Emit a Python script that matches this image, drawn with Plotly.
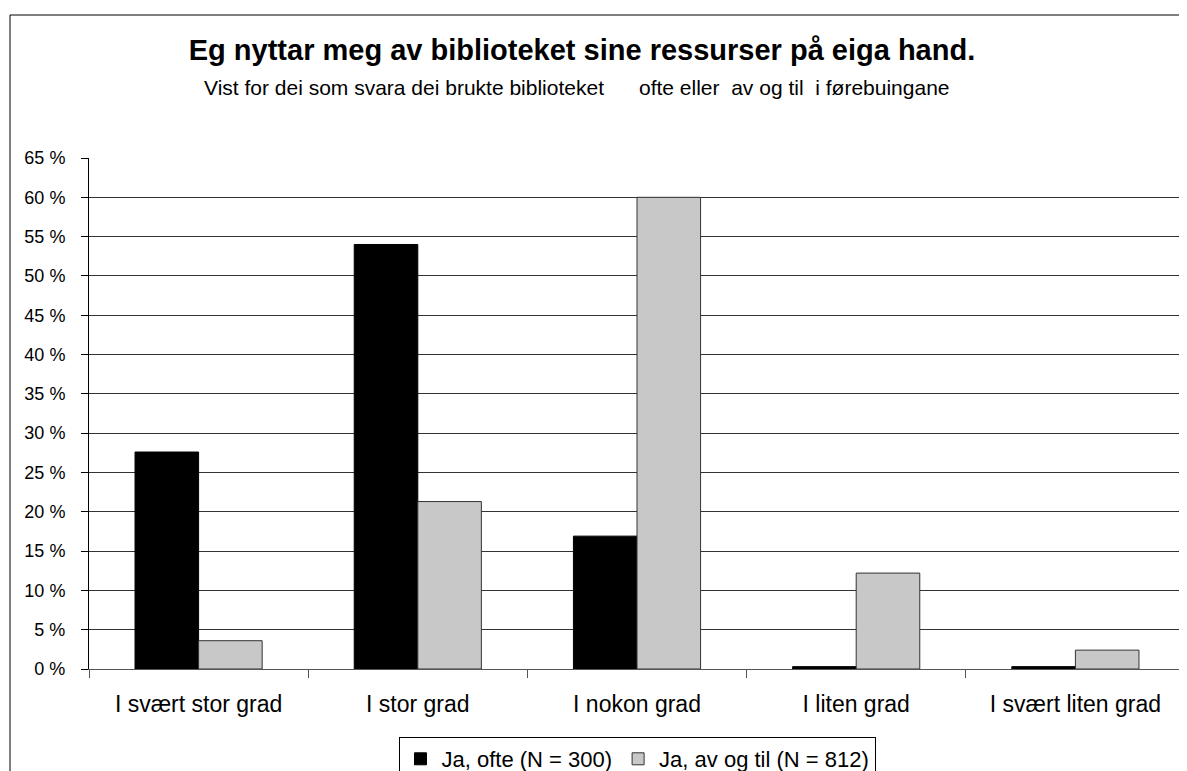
import plotly.graph_objects as go

categories = ["I svært stor grad", "I stor grad", "I nokon grad", "I liten grad", "I svært liten grad"]
ofte = [27.6, 54.0, 16.9, 0.3, 0.3]
av_og_til = [3.6, 21.3, 60.0, 12.2, 2.4]
series_names = ["Ja, ofte (N = 300)", "Ja, av og til (N = 812)"]
y_ticks = list(range(0, 70, 5))

FONT = "Liberation Sans, Arial, sans-serif"
NB = "\u00a0"

# page body has an 8px margin, so the figure is sized/positioned to compensate
W, H = 1179, 763
L, R, T, B = 81, 2, 150, 102
PW, PH = W - L - R, H - T - B

fig = go.Figure()
fig.add_trace(go.Bar(
    x=categories, y=ofte, name=series_names[0],
    marker=dict(color="#000000", line=dict(color="#000000", width=1)),
))
fig.add_trace(go.Bar(
    x=categories, y=av_og_til, name=series_names[1],
    marker=dict(color="#c8c8c8", line=dict(color="#333333", width=1)),
))

fig.update_layout(
    width=W, height=H,
    paper_bgcolor="white", plot_bgcolor="white",
    font=dict(family=FONT, color="black", size=18),
    margin=dict(l=L, r=R, t=T, b=B, autoexpand=False),
    barmode="group", bargap=0.42, bargroupgap=0,
    title=dict(
        text="<b>Eg nyttar meg av biblioteket sine ressurser på eiga hand.</b>",
        font=dict(size=29, family=FONT, color="black"),
        xref="container", x=574 / W, xanchor="center",
        yref="container", y=1 - 42 / H, yanchor="middle",
    ),
    legend=dict(
        orientation="h", x=(637 - 89) / PW, xanchor="center",
        yref="container", y=1 - 729 / H, yanchor="top",
        bordercolor="black", borderwidth=1,
        font=dict(size=22, family=FONT),
        traceorder="normal", itemwidth=32,
    ),
    showlegend=True,
)

fig.add_annotation(
    text="Vist for dei som svara dei brukte biblioteket" + NB * 6 + "ofte eller" + NB * 2
         + "av og til" + NB * 2 + "i førebuingane",
    xref="paper", yref="paper", x=(577 - 89) / PW, y=1 + (158 - 88) / PH,
    xanchor="center", yanchor="middle", showarrow=False,
    font=dict(size=21, family=FONT),
)

# outer frame of the chart (right and bottom edges fall outside the view)
fig.add_shape(type="rect", xref="paper", yref="paper",
              x0=(2 - L) / PW, x1=1.05, y0=-0.4, y1=1 + (T - 7) / PH,
              line=dict(color="black", width=1), layer="below")

fig.update_xaxes(
    tickson="boundaries", ticks="outside", ticklen=8, tickcolor="#555555",
    showline=True, linecolor="#555555", linewidth=1,
    tickfont=dict(size=23, family=FONT), showgrid=False,
    ticklabelstandoff=14,
)
fig.update_yaxes(
    range=[0, 65], tickvals=y_ticks, ticktext=[f"{v} %" for v in y_ticks],
    ticks="outside", ticklen=7, tickcolor="black",
    showline=True, linecolor="black", linewidth=1,
    gridcolor="#333333", gridwidth=1, zeroline=False,
    tickfont=dict(size=18, family=FONT),
    ticklabelstandoff=12,
)

fig.write_html("out.html")
